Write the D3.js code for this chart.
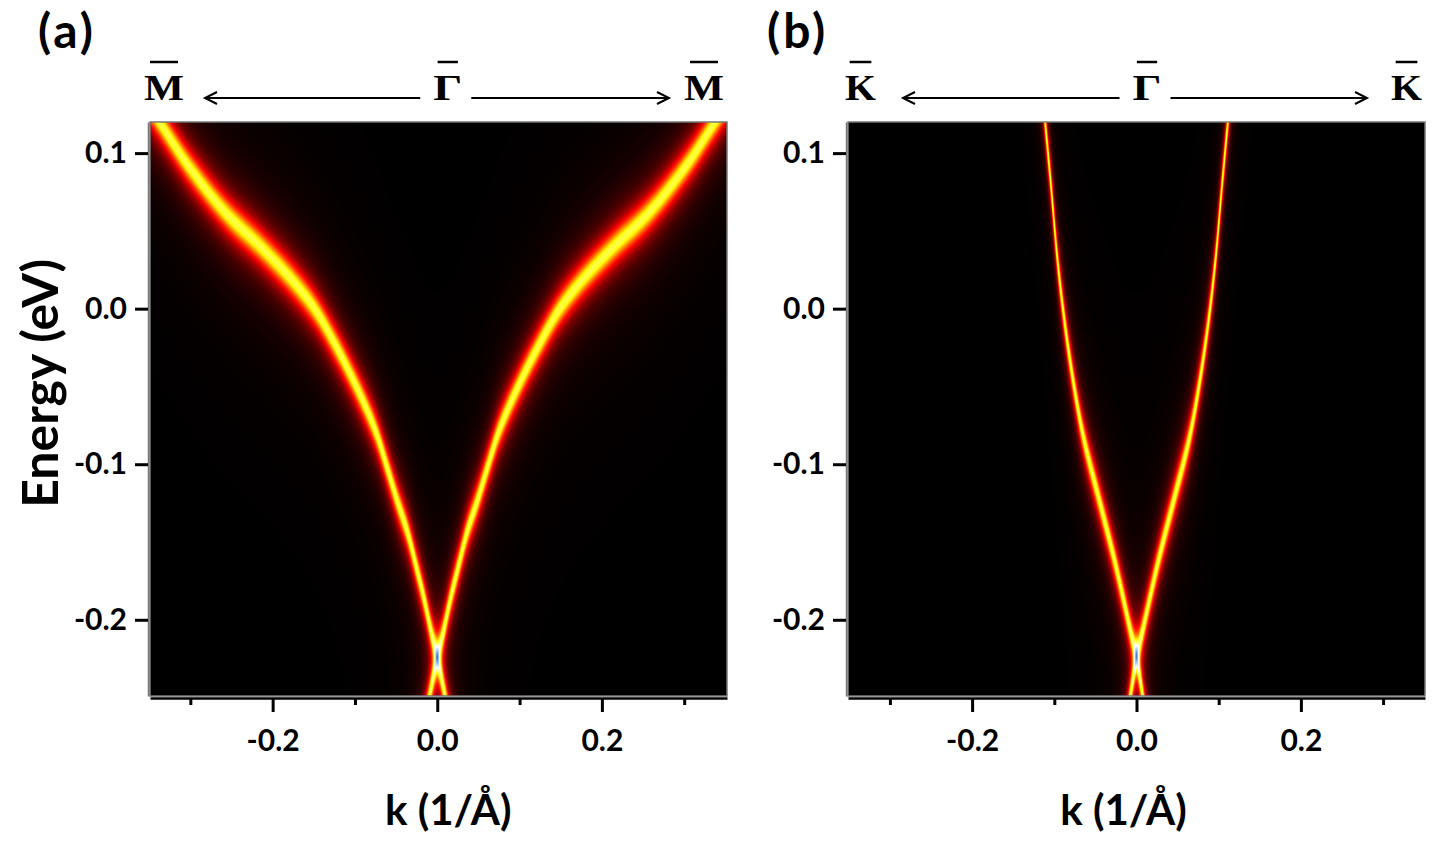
<!DOCTYPE html>
<html>
<head>
<meta charset="utf-8">
<script src="https://cdn.jsdelivr.net/npm/d3@7"></script>
<style>
  body { margin: 0; background: #fff; }
  svg { display: block; }
</style>
</head>
<body>
<script>
// Band positions: energy (eV) vs |k| (1/Å), right half only,
// the left half is the mirror image.
const panelNames = ["(a)", "(b)"];
const edgeLabels = ["M", "K"];
const centerLabel = "Γ";

// panel (a), Γ-M direction
const aUpperE = [-0.224, -0.208, -0.187, -0.166, -0.144, -0.123, -0.102, -0.080, -0.068, -0.047, -0.025, 0.0, 0.017, 0.039, 0.061, 0.093, 0.118];
const aUpperK = [0, 0.0073, 0.0158, 0.0255, 0.036, 0.049, 0.061, 0.074, 0.083, 0.101, 0.122, 0.149, 0.174, 0.213, 0.256, 0.304, 0.335];
const aLowerE = [-0.224, -0.249];
const aLowerK = [0, 0.0095];

// panel (b), Γ-K direction
const bUpperE = [-0.223, -0.211, -0.187, -0.161, -0.123, -0.084, -0.071, -0.033, 0.002, 0.036, 0.079, 0.119];
const bUpperK = [0, 0.0057, 0.0158, 0.0271, 0.0454, 0.064, 0.069, 0.081, 0.090, 0.097, 0.104, 0.111];
const bLowerE = [-0.223, -0.249];
const bLowerK = [0, 0.0075];

const xMajorTicks = [-0.2, 0.0, 0.2];
const xMinorTicks = [-0.3, -0.1, 0.1, 0.3];
const yTicks = [0.1, 0.0, -0.1, -0.2];
const energyRange = [-0.249, 0.12];

// SVG setup
const width = 1451;
const height = 850;
const plotW = 577;
const plotH = 574;
const plotTop = 122;

const svg = d3.select("body").append("svg")
  .attr("width", width)
  .attr("height", height);

// black -> red -> yellow -> white -> blue (saturated where the two cones meet)
const color = d3.scaleLinear()
  .domain([0, 0.4, 0.88, 1.3, 1.65, 2.0])
  .range(["#000000", "#ff0000", "#ffff00", "#ffffff", "#a6c8f0", "#3c78c8"])
  .clamp(true);
const lut = d3.range(1024).map(i => d3.rgb(color(i / 1023 * 2.0)));

// smooth monotone curve through the read points (linear beyond the ends)
function monotone(xs, ys) {
  const n = xs.length;
  const d = d3.range(n - 1).map(i => (ys[i + 1] - ys[i]) / (xs[i + 1] - xs[i]));
  const m = xs.map((_, i) => {
    if (i === 0) return d[0];
    if (i === n - 1) return d[n - 2];
    if (d[i - 1] * d[i] <= 0) return 0;
    const h0 = xs[i] - xs[i - 1], h1 = xs[i + 1] - xs[i];
    const w1 = 2 * h1 + h0, w2 = h1 + 2 * h0;
    return (w1 + w2) / (w1 / d[i - 1] + w2 / d[i]);
  });
  return v => {
    if (v <= xs[0]) return ys[0] + m[0] * (v - xs[0]);
    if (v >= xs[n - 1]) return ys[n - 1] + m[n - 1] * (v - xs[n - 1]);
    const i = d3.bisectRight(xs, v) - 1;
    const h = xs[i + 1] - xs[i];
    const t = (v - xs[i]) / h;
    const t2 = t * t, t3 = t2 * t;
    return (2 * t3 - 3 * t2 + 1) * ys[i] + (t3 - 2 * t2 + t) * h * m[i]
      + (-2 * t3 + 3 * t2) * ys[i + 1] + (t3 - t2) * h * m[i + 1];
  };
}

const panels = [
  { name: panelNames[0], edge: edgeLabels[0], left: 150, kDomain: [-0.349, 0.352],
    upperE: aUpperE, upperK: aUpperK, lowerE: aLowerE, lowerK: aLowerK, gamma: 0.009,
    yLabel: true, titleShift: 11, nameX: 38 },
  { name: panelNames[1], edge: edgeLabels[1], left: 848, kDomain: [-0.351, 0.351],
    upperE: bUpperE, upperK: bUpperK, lowerE: bLowerE, lowerK: bLowerK, gamma: 0.009,
    yLabel: false, titleShift: -13, nameX: 767 }
];

const tickFont = "Lato, 'Open Sans', sans-serif";
const symFont = "'Liberation Serif', 'DejaVu Serif', serif";

panels.forEach(p => {
  const x = d3.scaleLinear().domain(p.kDomain).range([0, plotW]);
  const y = d3.scaleLinear().domain(energyRange).range([plotH, 0]);

  const g = svg.append("g")
    .attr("transform", `translate(${p.left},${plotTop})`);

  // band energy as a function of |k|
  const upper = monotone(p.upperK, p.upperE);
  const lower = d3.scaleLinear().domain(p.lowerK).range(p.lowerE);

  // Spectral function, Lorentzian in energy around each band
  const sub = 4;
  const cols = plotW * sub;
  const eu = new Float64Array(cols);
  const el = new Float64Array(cols);
  for (let c = 0; c < cols; c++) {
    const k = Math.abs(x.invert((c + 0.5) / sub));
    eu[c] = upper(k);
    el[c] = lower(k);
  }
  const canvas = document.createElement("canvas");
  canvas.width = plotW;
  canvas.height = plotH;
  const ctx = canvas.getContext("2d");
  const img = ctx.createImageData(plotW, plotH);
  const G2 = p.gamma * p.gamma;
  for (let r = 0; r < plotH; r++) {
    const E = y.invert(r + 0.5);
    for (let px = 0; px < plotW; px++) {
      let a = 0;
      for (let s = 0; s < sub; s++) {
        const c = px * sub + s;
        const du = E - eu[c];
        const dl = E - el[c];
        a += G2 / (du * du + G2) + G2 / (dl * dl + G2);
      }
      a /= sub;
      const idx = Math.min(1023, Math.round(a / 2.0 * 1023));
      const col = lut[idx];
      const o = (r * plotW + px) * 4;
      img.data[o] = col.r;
      img.data[o + 1] = col.g;
      img.data[o + 2] = col.b;
      img.data[o + 3] = 255;
    }
  }
  ctx.putImageData(img, 0, 0);

  g.append("image")
    .attr("width", plotW)
    .attr("height", plotH)
    .attr("preserveAspectRatio", "none")
    .attr("href", canvas.toDataURL());

  g.append("rect")
    .attr("width", plotW)
    .attr("height", plotH)
    .attr("fill", "none")
    .attr("stroke", "#777")
    .attr("stroke-width", 1.5);

  // Bottom axis: major ticks with labels, minor ticks without
  const xAxis = g.append("g")
    .attr("transform", `translate(0,${plotH + 2})`)
    .call(d3.axisBottom(x).tickValues(xMajorTicks).tickSize(14).tickSizeOuter(0).tickPadding(18)
      .tickFormat(d => d.toFixed(1)));
  g.append("g")
    .attr("transform", `translate(0,${plotH + 2})`)
    .call(d3.axisBottom(x).tickValues(xMinorTicks).tickSize(7).tickSizeOuter(0).tickFormat(""))
    .select(".domain").remove();

  // Left axis
  const yAxis = g.append("g")
    .attr("transform", "translate(-2,0)")
    .call(d3.axisLeft(y).tickValues(yTicks).tickSize(13).tickSizeOuter(0).tickPadding(8)
      .tickFormat(d => d.toFixed(1)));
  yAxis.select(".domain").attr("stroke", "#777").attr("stroke-width", 1.5);

  g.selectAll(".tick line").attr("stroke", "#000").attr("stroke-width", 3);
  xAxis.select(".domain").attr("stroke", "#000").attr("stroke-width", 2.5);
  g.selectAll(".tick text")
    .attr("fill", "#000")
    .style("font-family", tickFont)
    .style("font-weight", "bold")
    .style("font-size", "30px");

  // axis titles
  svg.append("text")
    .attr("x", p.left + x(0) + p.titleShift)
    .attr("y", 825)
    .attr("text-anchor", "middle")
    .style("font-family", tickFont)
    .style("font-weight", "bold")
    .style("font-size", "42px")
    .text("k (1/Å)");

  if (p.yLabel) {
    svg.append("text")
      .attr("transform", `translate(58,${plotTop + y(-0.048)}) rotate(-90)`)
      .attr("text-anchor", "middle")
      .style("font-family", tickFont)
      .style("font-weight", "bold")
      .style("font-size", "50px")
      .text("Energy (eV)");
  }

  // panel label
  svg.append("text")
    .attr("x", p.nameX)
    .attr("y", 48)
    .style("font-family", tickFont)
    .style("font-weight", "bold")
    .style("font-size", "48px")
    .style("letter-spacing", "3px")
    .text(p.name);

  // high-symmetry points with overbars and arrows
  const zero = p.left + x(0);
  const right = p.left + plotW;
  const baseY = 100;
  const edgeW = p.edge === "M" ? 40 : 31;
  const syms = [
    { t: p.edge, x0: p.left - (p.edge === "M" ? 6 : 3), w: edgeW },
    { t: centerLabel, x0: zero - 4, w: 29 },
    { t: p.edge, x0: right - (p.edge === "M" ? 43 : 34), w: edgeW }
  ];
  syms.forEach(s => {
    svg.append("text")
      .attr("x", s.x0)
      .attr("y", baseY)
      .attr("textLength", s.w)
      .attr("lengthAdjust", "spacingAndGlyphs")
      .style("font-family", symFont)
      .style("font-weight", "bold")
      .style("font-size", "36px")
      .text(s.t);
    svg.append("line")
      .attr("x1", s.x0 + s.w * 0.15)
      .attr("x2", s.x0 + s.w * 0.85)
      .attr("y1", 62)
      .attr("y2", 62)
      .attr("stroke", "#000")
      .attr("stroke-width", 2.5);
  });

  const arrows = [
    { tip: p.left + 55, tail: zero - 17 },
    { tip: right - 58, tail: zero + 34 }
  ];
  arrows.forEach(a => {
    const dir = a.tip < a.tail ? -1 : 1;
    svg.append("line")
      .attr("x1", a.tail).attr("x2", a.tip)
      .attr("y1", 98).attr("y2", 98)
      .attr("stroke", "#000").attr("stroke-width", 2);
    svg.append("path")
      .attr("d", `M${a.tip - dir * 12},${92} L${a.tip},98 L${a.tip - dir * 12},${104}`)
      .attr("fill", "none")
      .attr("stroke", "#000")
      .attr("stroke-width", 2);
  });
});
</script>
</body>
</html>
